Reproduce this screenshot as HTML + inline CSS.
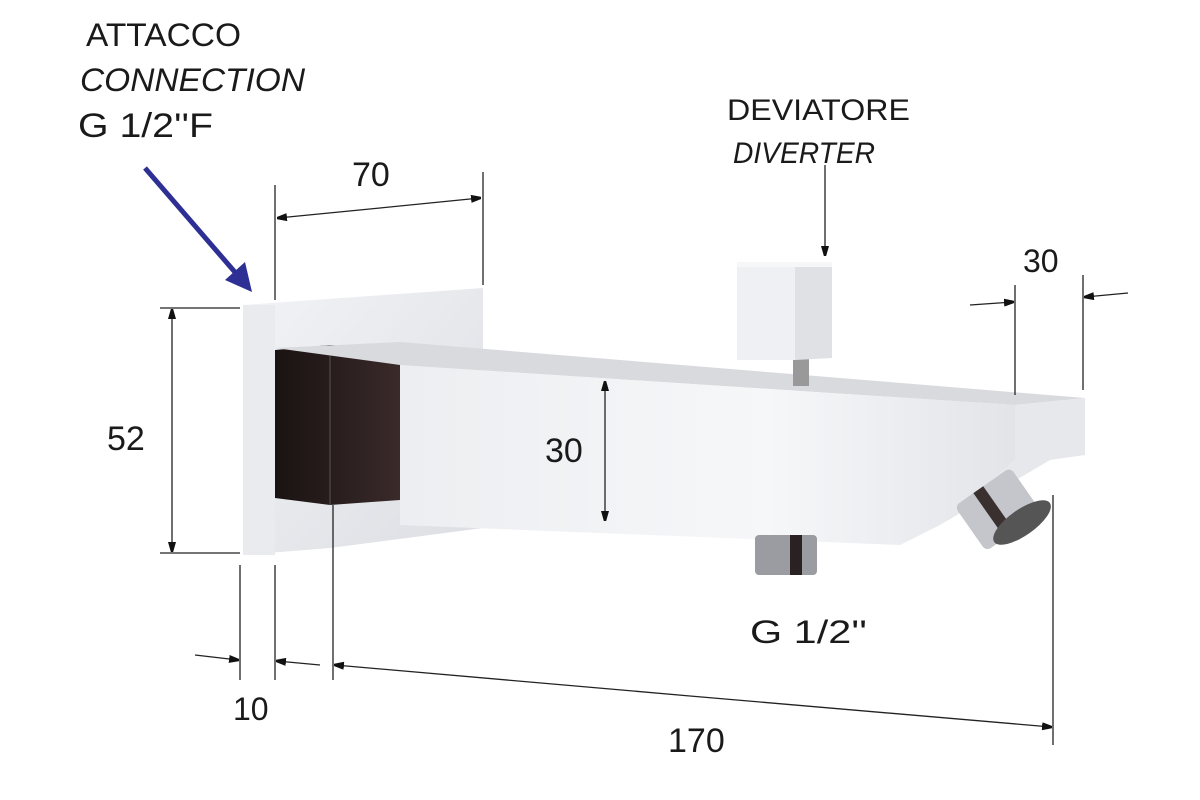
<!DOCTYPE html>
<html><head><style>
html,body{margin:0;padding:0;background:#fff;width:1200px;height:800px;overflow:hidden}
svg text{font-family:"Liberation Sans",sans-serif;fill:#1a1a1a}
</style></head><body>
<svg width="1200" height="800" viewBox="0 0 1200 800" xmlns="http://www.w3.org/2000/svg">
<defs>
<marker id="a" markerWidth="10" markerHeight="8" refX="9" refY="4" orient="auto" markerUnits="userSpaceOnUse"><path d="M0,0 L14,4 L0,8z" fill="#111"/></marker>
<linearGradient id="plate" x1="0" y1="0" x2="1" y2="1"><stop offset="0" stop-color="#f2f3f6"/><stop offset="1" stop-color="#dcdee3"/></linearGradient>
<linearGradient id="body" x1="0" y1="0" x2="1" y2="0"><stop offset="0" stop-color="#eceef1"/><stop offset="0.6" stop-color="#f6f7f9"/><stop offset="1" stop-color="#e2e4e8"/></linearGradient>
<linearGradient id="dark" x1="0" y1="0" x2="1" y2="0"><stop offset="0" stop-color="#1a1212"/><stop offset="1" stop-color="#3a2a2a"/></linearGradient>
</defs>
<polygon points="243,305 483,288 483,528 330,548 243,555" fill="url(#plate)"/>
<polygon points="243,305 275,305 275,555 243,555" fill="#e9ebee"/>
<polygon points="275,350 330,345 400,350 400,500 330,505 275,498" fill="url(#dark)"/>
<line x1="330" y1="345" x2="330" y2="505" stroke="#555" stroke-width="1"/>
<polygon points="275,348 400,342 1085,398 1015,405 400,365" fill="#d8dade"/>
<polygon points="400,365 1015,405 1015,460 940,525 900,545 400,525" fill="url(#body)"/>
<polygon points="1015,405 1085,398 1085,455 1050,460 940,525 1015,460" fill="#e6e8ec"/>
<rect x="793" y="358" width="16" height="28" fill="#999"/>
<rect x="737" y="265" width="58" height="95" fill="#eef0f3"/>
<polygon points="795,265 832,265 832,358 795,360" fill="#dfe1e5"/>
<rect x="737" y="262" width="95" height="5" fill="#f6f7f9"/>
<rect x="755" y="535" width="62" height="40" rx="4" fill="#9a9ca1"/>
<rect x="790" y="535" width="12" height="40" fill="#2a2222"/>
<g transform="rotate(-35 1000 505)">
<rect x="962" y="480" width="68" height="55" rx="6" fill="#c4c6cb"/>
<rect x="985" y="480" width="12" height="55" fill="#3a3030"/>
<ellipse cx="1008" cy="532" rx="34" ry="13" fill="#555"/>
</g>
<g stroke="#222" stroke-width="1.3" fill="none">
<line x1="275" y1="185" x2="275" y2="300"/><line x1="483" y1="172" x2="483" y2="285"/>
<line x1="380" y1="208" x2="278" y2="218" marker-end="url(#a)"/><line x1="380" y1="208" x2="480" y2="198" marker-end="url(#a)"/>
<line x1="160" y1="308" x2="240" y2="308"/><line x1="160" y1="553" x2="240" y2="553"/>
<line x1="172" y1="430" x2="172" y2="310" marker-end="url(#a)"/><line x1="172" y1="430" x2="172" y2="551" marker-end="url(#a)"/>
<line x1="1015" y1="285" x2="1015" y2="395"/><line x1="1083" y1="275" x2="1083" y2="390"/>
<line x1="970" y1="305" x2="1013" y2="302" marker-end="url(#a)"/><line x1="1128" y1="293" x2="1085" y2="297" marker-end="url(#a)"/>
<line x1="605" y1="450" x2="605" y2="382" marker-end="url(#a)"/><line x1="605" y1="450" x2="605" y2="520" marker-end="url(#a)"/>
<line x1="240" y1="565" x2="240" y2="680"/><line x1="275" y1="565" x2="275" y2="680"/>
<line x1="195" y1="655" x2="238" y2="660" marker-end="url(#a)"/><line x1="320" y1="665" x2="277" y2="661" marker-end="url(#a)"/>
<line x1="333" y1="505" x2="333" y2="680"/><line x1="1053" y1="495" x2="1053" y2="745"/>
<line x1="690" y1="696" x2="335" y2="665" marker-end="url(#a)"/><line x1="690" y1="696" x2="1051" y2="727" marker-end="url(#a)"/>
<line x1="825" y1="165" x2="825" y2="255" marker-end="url(#a)"/>
</g>
<line x1="145" y1="168" x2="240" y2="278" stroke="#2e2f95" stroke-width="5"/>
<polygon points="252,292 225,280 245,262" fill="#2e2f95"/>
<text x="86" y="46" font-size="32" textLength="155" lengthAdjust="spacingAndGlyphs">ATTACCO</text>
<text x="80" y="91" font-size="32" font-style="italic" textLength="225" lengthAdjust="spacingAndGlyphs">CONNECTION</text>
<text x="78" y="137" font-size="34" textLength="135" lengthAdjust="spacingAndGlyphs">G 1/2''F</text>
<text x="352" y="186" font-size="34">70</text>
<text x="727" y="120" font-size="30" textLength="183" lengthAdjust="spacingAndGlyphs">DEVIATORE</text>
<text x="733" y="163" font-size="30" font-style="italic" textLength="142" lengthAdjust="spacingAndGlyphs">DIVERTER</text>
<text x="1023" y="272" font-size="32">30</text>
<text x="107" y="450" font-size="34">52</text>
<text x="545" y="462" font-size="34">30</text>
<text x="750" y="643" font-size="32" textLength="117" lengthAdjust="spacingAndGlyphs">G 1/2''</text>
<text x="233" y="720" font-size="32">10</text>
<text x="668" y="752" font-size="34">170</text>
</svg>
</body></html>
